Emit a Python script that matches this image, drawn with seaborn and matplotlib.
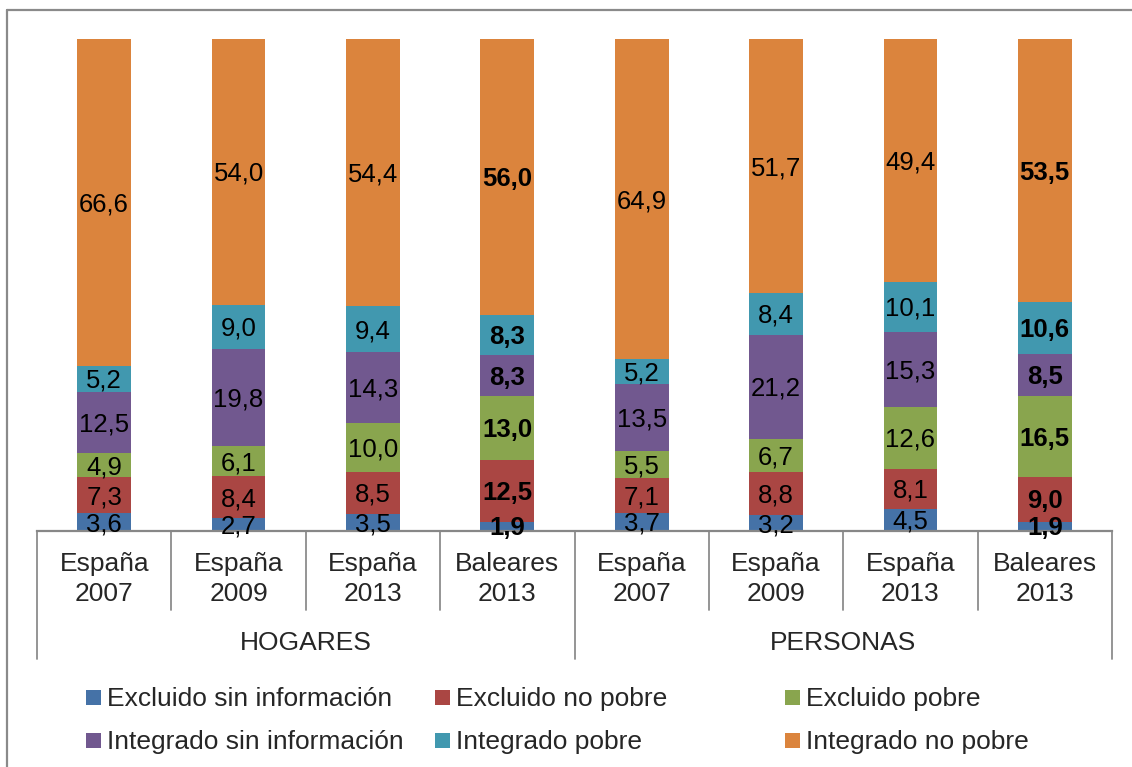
import matplotlib
matplotlib.use("Agg")
import matplotlib.pyplot as plt
import matplotlib.transforms as mtransforms
from matplotlib.lines import Line2D
from matplotlib.patches import Rectangle
import seaborn as sns

# datos (porcentajes), de abajo arriba en cada barra
categories = ["España\n2007", "España\n2009", "España\n2013", "Baleares\n2013",
              "España\n2007", "España\n2009", "España\n2013", "Baleares\n2013"]
groups = ["HOGARES", "PERSONAS"]
series = ["Excluido sin información", "Excluido no pobre", "Excluido pobre",
          "Integrado sin información", "Integrado pobre", "Integrado no pobre"]

excluido_sin_info = [3.6, 2.7, 3.5, 1.9, 3.7, 3.2, 4.5, 1.9]
excluido_no_pobre = [7.3, 8.4, 8.5, 12.5, 7.1, 8.8, 8.1, 9.0]
excluido_pobre = [4.9, 6.1, 10.0, 13.0, 5.5, 6.7, 12.6, 16.5]
integrado_sin_info = [12.5, 19.8, 14.3, 8.3, 13.5, 21.2, 15.3, 8.5]
integrado_pobre = [5.2, 9.0, 9.4, 8.3, 5.2, 8.4, 10.1, 10.6]
integrado_no_pobre = [66.6, 54.0, 54.4, 56.0, 64.9, 51.7, 49.4, 53.5]

values = [excluido_sin_info, excluido_no_pobre, excluido_pobre,
          integrado_sin_info, integrado_pobre, integrado_no_pobre]
colors = ["#4572A7", "#AA4643", "#89A54E", "#71588F", "#4198AF", "#DB843D"]
bold_cols = [3, 7]

sns.set_theme(style="white")
plt.rcParams['font.family'] = ['Liberation Sans', 'DejaVu Sans']
FS = 19
FS_LAB = 18.5

W, H = 1132, 767
fig = plt.figure(figsize=(W / 100, H / 100), dpi=100)
fig.patch.set_facecolor("white")
ax = fig.add_axes([37 / W, 236 / H, 1075 / W, 492 / H])

pos = list(range(len(categories)))
bottoms = [0.0] * len(pos)
for name, vals, col in zip(series, values, colors):
    sns.barplot(x=pos, y=vals, bottom=bottoms, color=col, saturation=1,
                width=0.4, errorbar=None, linewidth=0, ax=ax)
    for i, v in enumerate(vals):
        ax.text(i, bottoms[i] + v / 2 - 0.4, f"{v:.1f}".replace(".", ","),
                ha="center", va="center", fontsize=FS_LAB, color="black",
                fontweight="bold" if i in bold_cols else "normal",
                zorder=5, clip_on=False)
    bottoms = [b + v for b, v in zip(bottoms, vals)]

ax.set_xlim(-0.5, 7.5)
ax.set_ylim(0, 100)
ax.set_xticks([])
ax.set_yticks([])
ax.set_xlabel("")
ax.set_ylabel("")
for s in ["left", "right", "top"]:
    ax.spines[s].set_visible(False)
ax.spines["bottom"].set_color("#878787")
ax.spines["bottom"].set_linewidth(1.6)

trans = mtransforms.blended_transform_factory(ax.transData, ax.transAxes)
line_col = "#8c8c8c"
for b in range(len(categories) + 1):
    xb = b - 0.5
    low = -0.260 if b % 4 == 0 else -0.1606
    ax.add_line(Line2D([xb, xb], [0, low], transform=trans, color=line_col,
                       lw=1.3, clip_on=False))

for i, lab in enumerate(categories):
    ax.text(i, -0.0975, lab, transform=trans, ha="center", va="center",
            fontsize=FS, linespacing=1.35)
for g, lab in enumerate(groups):
    ax.text(g * 4 + 1.5, -0.2276, lab, transform=trans, ha="center",
            va="center", fontsize=FS)

# marco exterior
fig.add_artist(Line2D([7 / W, 7 / W], [0, 1 - 10 / H], transform=fig.transFigure,
                      color="#8a8a8a", lw=1.6))
fig.add_artist(Line2D([7 / W, 1], [1 - 10 / H, 1 - 10 / H], transform=fig.transFigure,
                      color="#8a8a8a", lw=1.6))

# leyenda
leg_x = [86, 435, 785]
leg_y = [697, 740]
for k, (name, col) in enumerate(zip(series, colors)):
    r, c = divmod(k, 3)
    x0, y0 = leg_x[c], leg_y[r]
    fig.add_artist(Rectangle((x0 / W, 1 - (y0 + 7.5) / H), 15 / W, 15 / H,
                             transform=fig.transFigure, color=col, lw=0))
    fig.text((x0 + 21) / W, 1 - (y0 + 2) / H, name, ha="left", va="center",
             fontsize=FS)

fig.savefig("out.png", dpi=100)
